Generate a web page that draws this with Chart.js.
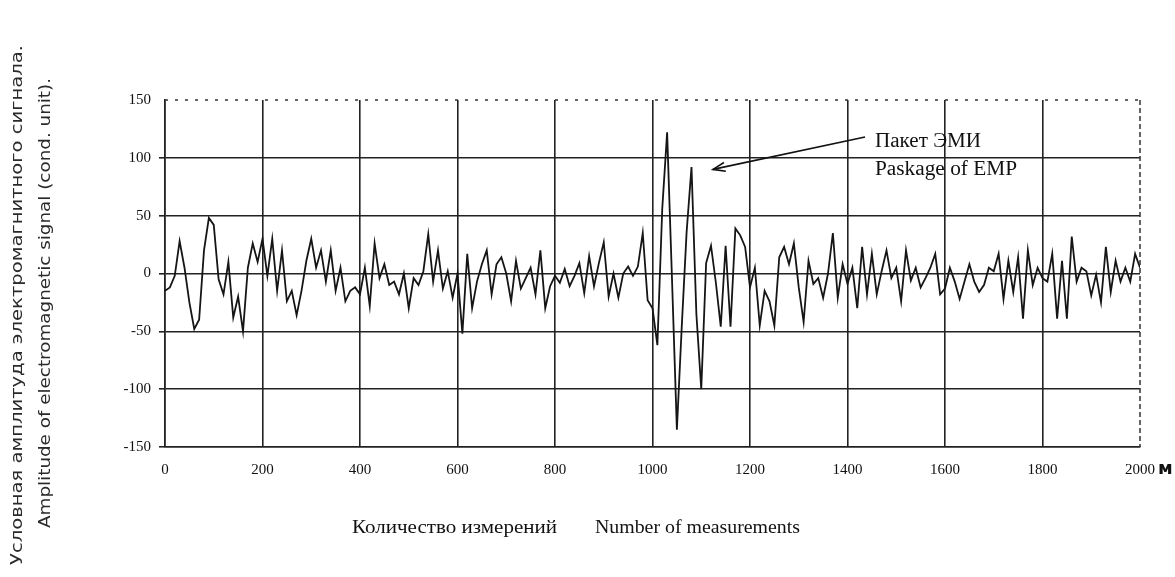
<!DOCTYPE html>
<html>
<head>
<meta charset="utf-8">
<script src="https://cdn.jsdelivr.net/npm/chart.js@4/dist/chart.umd.min.js"></script>
<style>
  body { margin: 0; background: #fff; }
  canvas { display: block; }
</style>
</head>
<body>
<canvas id="emp" width="1175" height="577"></canvas>
<script>
// sampling interval of the read-off trace (measurements)
var STEP = 10;

var xTicks = [0, 200, 400, 600, 800, 1000, 1200, 1400, 1600, 1800, 2000];
var yTicks = [-150, -100, -50, 0, 50, 100, 150];

// amplitude, measurements 0..490
var amp0 = [-15, -12, -2, 28, 5, -25, -48, -40, 20, 48,
            42, -5, -18, 10, -38, -20, -50, 5, 26, 10,
            30, -2, 30, -15, 20, -24, -15, -36, -15, 11,
            30, 5, 20, -7, 20, -15, 5, -24, -15, -12,
            -18, 5, -28, 26, -4, 8, -10, -7, -18, 0];
// 500..990
var amp500 = [-30, -4, -10, 2, 34, -7, 20, -13, 2, -21,
              0, -52, 17, -30, -7, 8, 20, -18, 8, 14,
              0, -24, 11, -13, -4, 5, -18, 20, -30, -11,
              -2, -8, 4, -11, -2, 9, -17, 15, -11, 9,
              27, -20, 0, -21, 0, 6, -2, 6, 35, -23];
// 1000..1490 (EMP package)
var amp1000 = [-30, -62, 56, 122, -5, -135, -46, 36, 92, -35,
               -100, 9, 24, -8, -46, 24, -46, 39, 33, 23,
               -12, 5, -45, -15, -24, -45, 14, 23, 8, 26,
               -12, -42, 11, -9, -4, -21, 0, 35, -21, 8,
               -9, 5, -30, 23, -18, 17, -18, 2, 20, -4];
// 1500..2000
var amp1500 = [5, -24, 20, -6, 5, -12, -4, 5, 17, -18,
               -13, 5, -7, -22, -7, 8, -7, -16, -10, 5,
               2, 17, -22, 11, -16, 14, -39, 20, -10, 5,
               -4, -7, 17, -39, 11, -39, 32, -7, 5, 2,
               -19, -1, -25, 23, -16, 11, -7, 5, -7, 17, 5];

var amplitude = amp0.concat(amp500, amp1000, amp1500);
var points = amplitude.map(function (v, i) { return { x: i * STEP, y: v }; });

var serif = '"Liberation Serif", "DejaVu Serif", serif';
var sans = '"DejaVu Sans", "Noto Sans", sans-serif';

// text written in a given length, like the scanned original
function fitText(ctx, text, x, y, width) {
    var w = ctx.measureText(text).width;
    ctx.save();
    ctx.translate(x, y);
    ctx.scale(width / w, 1);
    ctx.fillText(text, 0, 0);
    ctx.restore();
}

var decor = {
    id: 'decor',
    afterDraw: function (chart) {
        var ctx = chart.ctx;
        var area = chart.chartArea;
        var xs = chart.scales.x, ys = chart.scales.y;
        ctx.save();

        // dotted top edge and dashed right edge of the frame
        ctx.strokeStyle = '#333';
        ctx.lineWidth = 1.5;
        ctx.setLineDash([3, 7]);
        ctx.beginPath();
        ctx.moveTo(area.left, area.top);
        ctx.lineTo(area.right, area.top);
        ctx.stroke();
        ctx.setLineDash([5, 3]);
        ctx.beginPath();
        ctx.moveTo(area.right, area.top);
        ctx.lineTo(area.right, area.bottom);
        ctx.stroke();
        ctx.setLineDash([]);

        // annotation with arrow pointing at the package
        var x0 = xs.getPixelForValue(1436), y0 = ys.getPixelForValue(118);
        var x1 = xs.getPixelForValue(1124), y1 = ys.getPixelForValue(90);
        ctx.strokeStyle = '#111';
        ctx.lineWidth = 1.6;
        ctx.beginPath();
        ctx.moveTo(x0, y0);
        ctx.lineTo(x1, y1);
        ctx.stroke();
        var ang = Math.atan2(y1 - y0, x1 - x0);
        ctx.beginPath();
        ctx.moveTo(x1 - 13 * Math.cos(ang - 0.35), y1 - 13 * Math.sin(ang - 0.35));
        ctx.lineTo(x1, y1);
        ctx.lineTo(x1 - 13 * Math.cos(ang + 0.35), y1 - 13 * Math.sin(ang + 0.35));
        ctx.stroke();

        ctx.fillStyle = '#111';
        ctx.font = '20px ' + serif;
        ctx.textAlign = 'left';
        ctx.textBaseline = 'alphabetic';
        fitText(ctx, 'Пакет ЭМИ', 875, 147, 106);
        fitText(ctx, 'Paskage of EMP', 875, 175, 142);

        // x axis title
        ctx.font = '19px ' + serif;
        fitText(ctx, 'Количество измерений', 352, 533, 205);
        fitText(ctx, 'Number of measurements', 595, 533, 205);

        // unit mark after 2000
        ctx.font = 'bold 18px ' + sans;
        ctx.fillText('м', 1158, 474);

        // y axis titles, rotated
        ctx.fillStyle = '#2a2a2a';
        ctx.font = '15px ' + sans;
        ctx.textBaseline = 'middle';
        ctx.save();
        ctx.translate(18, 565);
        ctx.rotate(-Math.PI / 2);
        fitText(ctx, 'Условная амплитуда электромагнитного сигнала.', 0, 0, 520);
        ctx.restore();
        ctx.save();
        ctx.translate(46, 528);
        ctx.rotate(-Math.PI / 2);
        fitText(ctx, 'Amplitude of electromagnetic signal (cond. unit).', 0, 0, 450);
        ctx.restore();

        ctx.restore();
    }
};

var ctx = document.getElementById('emp').getContext('2d');
new Chart(ctx, {
    type: 'line',
    data: {
        datasets: [{
            data: points,
            borderColor: '#151515',
            borderWidth: 1.8,
            pointRadius: 0,
            tension: 0,
            fill: false
        }]
    },
    options: {
        responsive: false,
        animation: false,
        devicePixelRatio: 1,
        layout: { padding: { top: 100, right: 35, left: 0, bottom: 0 } },
        plugins: { legend: { display: false }, tooltip: { enabled: false } },
        scales: {
            x: {
                type: 'linear',
                min: 0,
                max: 2000,
                afterBuildTicks: function (scale) {
                    scale.ticks = xTicks.map(function (v) { return { value: v }; });
                },
                afterFit: function (scale) { scale.height = 130; },
                ticks: {
                    autoSkip: false,
                    maxRotation: 0,
                    padding: 14,
                    color: '#111',
                    font: { family: serif, size: 15 },
                    callback: function (v) { return String(v); }
                },
                grid: {
                    drawTicks: false,
                    lineWidth: 1.6,
                    color: function (c) {
                        return (c.tick && c.tick.value === 2000) ? 'rgba(0,0,0,0)' : '#222';
                    }
                },
                border: { color: '#222', width: 1.6 }
            },
            y: {
                min: -150,
                max: 150,
                afterBuildTicks: function (scale) {
                    scale.ticks = yTicks.map(function (v) { return { value: v }; });
                },
                afterFit: function (scale) { scale.width = 165; },
                ticks: {
                    padding: 8,
                    color: '#111',
                    font: { family: serif, size: 15 },
                    callback: function (v) { return String(v); }
                },
                grid: {
                    tickLength: 6,
                    lineWidth: 1.6,
                    color: function (c) {
                        return (c.tick && c.tick.value === 150) ? 'rgba(0,0,0,0)' : '#222';
                    }
                },
                border: { color: '#222', width: 1.6 }
            }
        }
    },
    plugins: [decor]
});
</script>
</body>
</html>
